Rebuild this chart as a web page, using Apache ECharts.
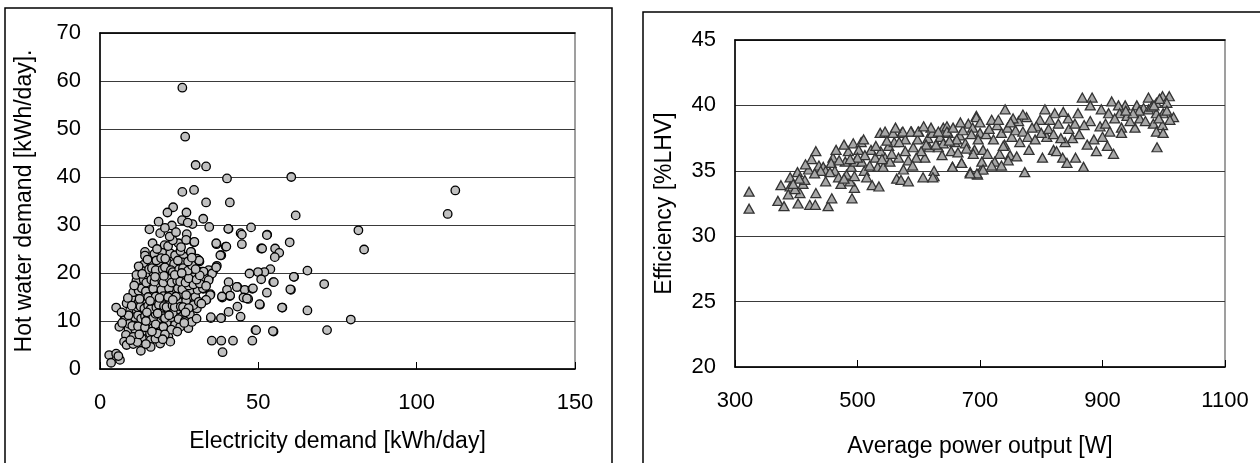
<!DOCTYPE html>
<html>
<head>
<meta charset="utf-8">
<script src="https://cdn.jsdelivr.net/npm/echarts@6/dist/echarts.min.js"></script>
<style>
  html, body { margin: 0; padding: 0; background: #fff; }
  #main { width: 1260px; height: 463px; }
</style>
</head>
<body>
<div id="main"></div>
<script>
// left panel: electricity vs hot water demand [kWh/day]
var demandPoints = [
  [26.0,58.6],[26.9,48.4],[30.2,42.5],[33.5,42.2],[40.1,39.7],[60.4,40.0],[26.0,36.9],[29.7,37.3],[33.5,34.7],[41.0,34.7],
  [61.8,32.0],[27.3,32.6],[32.6,31.3],[81.6,28.9],[83.4,24.9],[112.2,37.2],[109.8,32.3],[34.5,29.6],[40.6,29.2],[44.4,28.3],
  [47.7,29.5],[52.8,28.0],[59.9,26.4],[44.8,26.0],[36.8,26.0],[39.7,25.5],[38.3,23.7],[50.9,25.1],[55.3,25.1],[56.6,24.2],
  [55.2,23.3],[65.5,20.5],[53.8,20.8],[51.9,20.2],[49.9,20.2],[47.2,19.9],[50.9,18.7],[61.3,19.2],[54.7,18.1],[70.8,17.7],
  [60.3,16.5],[52.7,15.9],[40.6,18.1],[40.1,16.5],[43.4,17.1],[45.7,16.5],[48.1,16.7],[41.0,15.2],[38.6,14.9],[45.3,14.9],
  [46.8,14.6],[43.4,13.0],[50.5,13.4],[57.6,12.8],[65.5,12.2],[40.6,11.9],[44.4,10.9],[35.0,10.6],[38.3,10.6],[79.2,10.3],
  [49.1,8.1],[54.8,7.8],[71.7,8.1],[35.3,5.9],[38.3,5.9],[42.0,5.9],[48.1,5.9],[38.7,3.5],
  [32.6,16.7],[34.9,15.6],[36.9,21.5],[35.9,20.6],[34.4,18.9],[33.6,14.4],[27.9,8.5],[30.6,12.6],[29.6,13.6],[29.7,26.4],
  [27.4,26.9],[28.8,24.4],[31.4,22.4],[29.7,22.4],[30.8,22.8],[26.6,23.4],[27.4,28.1],[29.2,30.2],[32.5,20.1],[26.9,20.1],
  [29.5,19.2],[26.6,18.3],[28.8,16.5],[30.1,15.1],[26.9,15.8],[26.4,12.3],[25.9,10.9],
  [23.1,33.7],[21.3,32.6],[18.5,30.7],[15.6,29.1],[19.0,28.3],[22.7,29.9],[25.9,31.0],[27.7,30.5],[40.5,29.2],[16.6,26.2],
  [20.4,25.8],[24.8,26.2],[27.2,26.9],[29.8,26.5],[36.7,26.2],[38.0,23.7],[14.2,24.4],[14.2,23.6],[17.2,24.0],[19.7,24.2],
  [22.2,24.1],[23.7,23.7],[26.4,23.4],[28.7,24.4],[30.6,23.0],[31.3,22.6],[13.7,21.7],[16.3,22.0],[19.0,21.5],[21.1,22.4],
  [23.4,21.9],[26.1,22.2],[12.7,20.6],[12.4,19.1],[14.8,19.4],[16.9,19.9],[18.8,19.6],[21.1,19.9],[24.5,19.2],[27.4,19.1],
  [29.3,19.1],[32.2,20.3],[34.3,20.6],[35.4,19.9],[36.7,21.2],[32.9,19.1],[34.3,18.5],[12.9,17.5],[15.6,17.5],[18.1,17.5],
  [20.6,17.6],[23.2,17.8],[25.9,17.8],[28.7,16.5],[30.8,16.5],[32.5,16.8],[34.8,15.4],[33.5,14.4],[11.4,15.2],[13.7,15.6],
  [16.0,15.6],[18.5,15.8],[20.9,15.9],[23.2,16.1],[25.8,15.8],[10.3,14.4],[8.4,13.7],[12.1,13.8],[14.8,13.7],[17.1,13.8],
  [19.5,14.0],[22.2,14.0],[24.8,14.0],[27.2,14.2],[29.5,13.3],[5.1,12.8],[9.5,12.2],[11.6,11.9],[13.7,12.3],[16.4,11.9],
  [19.0,12.3],[21.6,12.3],[24.3,12.4],[7.9,10.6],[7.6,10.1],[10.0,10.1],[12.7,9.9],[15.6,9.6],[18.1,10.2],[21.1,9.5],
  [23.7,9.2],[25.3,8.8],[6.1,8.8],[9.0,8.3],[11.1,8.3],[13.5,7.8],[15.8,7.4],[19.0,8.1],[21.6,6.7],[8.2,7.1],
  [10.5,6.7],[13.2,6.4],[16.0,6.0],[7.6,5.7],[8.4,5.0],[10.5,5.2],[12.9,3.8],[16.0,4.6],[19.0,5.3],[22.2,5.7],
  [2.9,2.9],[5.1,3.2],[3.5,1.3],[6.3,1.9],[5.8,2.7],[35.0,10.8],[38.2,10.6],
  [44.8,28.0],[51.2,25.1],[52.7,27.9],[50.4,13.5],[48.3,16.8],[54.9,18.1],[60.1,16.6],[61.2,19.2],[57.5,12.8],[43.2,17.1],
  [46.4,14.7],[41.1,15.3],[38.5,15.1],[49.3,8.1],[54.6,7.9],[32.7,20.3],[39.9,25.5],
  [11.0,10.8],[12.0,11.2],[13.0,10.5],[14.2,11.0],[15.3,10.8],[16.8,10.7],[17.5,11.5],[19.8,11.0],[20.5,10.6],[22.5,10.8],
  [23.0,11.6],[24.8,10.4],[26.8,10.0],[28.4,11.4],[29.0,9.8],[30.5,10.5],[11.8,12.9],[12.8,13.0],[14.0,12.6],[15.2,13.2],
  [16.0,12.5],[17.8,12.8],[18.6,13.4],[20.2,13.1],[21.0,12.9],[22.9,13.2],[23.6,12.9],[25.5,13.0],[26.2,12.9],[28.0,12.7],
  [31.2,14.0],[32.0,13.6],[10.5,16.0],[12.2,16.3],[13.2,16.8],[14.5,16.2],[15.2,15.0],[16.8,16.7],[17.6,15.1],[19.4,16.5],
  [20.0,15.2],[21.8,16.8],[22.3,15.3],[24.0,15.1],[24.6,16.8],[26.0,16.6],[27.2,15.4],[28.0,17.4],[29.5,17.6],[31.5,17.8],
  [33.5,17.3],[11.5,18.4],[13.8,18.6],[14.6,18.0],[16.2,18.6],[17.2,18.2],[19.6,18.5],[20.0,18.0],[22.0,18.8],[22.6,18.0],
  [24.4,18.4],[25.3,18.2],[27.0,18.0],[28.0,18.9],[30.5,18.6],[31.5,19.5],[13.5,20.4],[15.5,20.8],[16.4,21.0],[17.6,20.6],
  [19.8,20.8],[20.5,21.2],[22.4,20.6],[23.0,20.2],[25.0,20.8],[26.2,21.0],[27.8,20.5],[29.0,21.6],[30.2,20.8],[15.0,22.8],
  [17.8,22.6],[19.3,23.1],[20.6,23.0],[24.6,22.6],[25.4,24.6],[27.8,22.4],[29.0,23.2],[18.0,25.0],[21.5,25.6],[23.0,26.8],
  [25.6,25.4],[22.0,27.6],[24.0,28.5],[20.5,29.4],[9.2,9.4],[10.2,9.0],[12.0,8.9],[14.2,8.7],[16.8,8.6],[17.6,9.3],
  [20.0,8.8],[22.5,8.2],[24.4,7.8],[26.6,9.6],[14.5,5.2],[17.5,6.3],[18.2,7.4],[20.5,7.2],[11.8,5.6],[9.6,6.0],
  [14.5,10.0],[27.0,11.8],[9.0,11.2],[8.8,14.8],[10.0,13.2],[7.0,9.6],[6.8,11.8],[10.8,17.4],[12.2,21.4],[11.5,19.6],
  [12.5,14.6],[15.8,14.2],[18.8,14.8],[21.5,15.0],[13.3,19.8],[17.4,19.2],[20.2,19.4],[23.6,19.6],[14.8,11.8],[18.2,11.6],
  [21.8,11.2],[12.4,7.2],[16.4,7.8],[19.8,6.2],[23.0,14.4],[25.8,20.0]
];

// right panel: average power output [W] vs efficiency [%LHV]
var efficiencyPoints = [
  [323,33.4],[323,32.1],[375,33.9],[390,34.5],[402,34.9],[390,33.8],[370,32.7],[380,32.3],[387,33.2],[403,32.5],
  [406,33.3],[411,34.0],[414,34.3],[422,32.4],[431,32.4],[432,33.3],[420,35.1],[425,35.9],[437,35.4],[444,35.3],
  [448,35.0],[452,32.3],[458,32.9],[460,36.0],[457,35.6],[463,35.0],[469,34.5],[473,34.0],[480,35.7],[485,36.5],
  [493,37.1],[491,32.9],[495,33.7],[488,34.2],[482,34.7],[490,35.3],[496,35.7],[506,37.2],[502,36.6],[507,35.7],
  [511,35.0],[515,34.5],[522,36.6],[524,33.9],[529,36.0],[533,35.3],[535,33.8],[537,37.9],[538,36.5],[542,35.3],
  [545,36.0],[551,36.9],[553,35.7],[560,37.2],[567,36.0],[564,34.4],[572,37.9],[575,35.1],[571,34.3],[583,34.2],
  [578,37.4],[583,35.8],[588,38.0],[591,36.8],[598,37.4],[600,38.0],[607,34.5],[610,36.0],[615,37.5],[617,36.8],
  [622,37.9],[625,34.6],[625,35.0],[632,36.8],[635,37.6],[640,38.3],[646,38.4],[648,37.9],[653,36.5],[655,35.3],
  [659,37.2],[667,37.7],[670,35.6],[676,37.1],[684,34.9],[681,38.6],[688,38.3],[691,36.6],[694,39.2],[696,34.7],
  [702,35.1],[700,37.9],[574,38.0],[587,38.0],[599,38.0],[623,34.5],
  [867,40.6],[883,40.6],[880,40.0],[975,40.6],[998,40.7],[1009,40.7],[988,40.2],[1005,40.2],[1016,39.1],[999,39.4],
  [988,39.4],[983,38.6],[998,38.5],[988,38.0],[999,37.9],[989,36.8],[967,39.8],[956,40.0],[937,40.0],[915,40.3],
  [926,40.0],[975,39.7],[961,39.0],[953,38.3],[931,38.3],[931,37.9],[900,37.6],[886,37.4],[890,36.5],[869,35.3],
  [898,39.7],[910,39.4],[928,39.4],[896,38.4],[880,38.8],[860,39.4],[844,39.0],[836,39.5],[822,39.4],[806,39.7],
  [814,38.9],[798,38.9],[792,38.4],[776,39.1],[763,38.8],[754,39.0],[741,39.7],[719,38.9],[694,39.1],[809,37.6],
  [839,37.2],[851,37.5],[820,36.6],[825,36.5],[835,36.0],[802,36.0],[773,34.9],[749,36.2],[746,35.8],[732,36.3],
  [724,35.7],[735,35.4],[719,35.4],[703,35.7],[705,35.1],[695,34.8],[684,34.8],[670,35.6],[655,35.3],[689,36.3],
  [678,36.7],[705,36.6],[662,37.4],[646,38.0],[640,37.1],
  [710,37.8],[715,38.2],[722,37.4],[728,38.5],[735,37.9],[740,37.0],[745,38.3],[752,37.6],[758,38.1],[765,37.2],
  [770,38.0],[778,37.6],[785,38.3],[790,37.4],[800,37.9],[812,38.2],[820,37.8],[828,38.6],[832,37.5],[845,38.2],
  [855,38.6],[862,37.8],[870,38.5],[875,37.0],[905,38.6],[912,38.0],[920,39.0],[940,39.2],[945,38.8],[960,39.6],
  [970,38.8],[980,39.9],[992,39.0],[1005,39.6],[1010,38.9],[993,40.5],[984,40.0],[950,39.4],[938,39.6],[908,36.9],
  [918,36.3],[856,36.0],[842,35.6],[780,36.6],[760,36.1],[738,36.9],[712,36.3],[697,37.4],[686,37.8],[672,38.1],
  [664,36.4],[650,37.3],[638,36.2],[628,37.0],[620,38.3],[612,37.0],[604,36.5],[596,36.0],[590,35.4],[578,36.5],
  [568,37.2],[556,36.3],[548,37.3],[540,35.9],[530,36.9],[520,35.4],[512,36.2],[500,36.0],[495,34.6],[488,35.9],
  [478,34.4],[470,35.8],[465,36.6],[455,34.9],[448,34.2],[440,35.0],[430,34.8],[415,35.5],[405,34.4],[398,33.6],
  [395,34.0],[432,36.5],[478,37.0],[510,37.4],[545,38.0],[558,37.9],[562,38.3],[608,38.4],[632,38.0],[656,38.3],
  [668,38.7],[700,38.7],[730,38.9],[750,38.7],[770,39.3]
];

var leftXTicks = [0, 150, 50];    // min, max, interval
var leftYTicks = [0, 70, 10];
var rightXTicks = [300, 1100, 200];
var rightYTicks = [20, 45, 5];

var FONT = 'Liberation Sans, Arial, sans-serif';
var FS = 22;      // tick labels
var NFS = 23;     // axis names
var myChart = echarts.init(document.getElementById('main'), null, { renderer: 'canvas' });

function plain(v) { return String(v); }

function xAx(idx, t, name, gap) {
  return {
    type: 'value', gridIndex: idx, min: t[0], max: t[1], interval: t[2],
    name: name, nameLocation: 'middle', nameGap: gap,
    nameTextStyle: { color: '#000', fontSize: NFS, fontFamily: FONT },
    axisLine: { show: true, lineStyle: { color: '#000', width: 1.5 } },
    axisTick: { show: true, inside: true, length: 7, lineStyle: { color: '#000' } },
    axisLabel: { color: '#000', fontSize: FS, fontFamily: FONT, margin: 23, formatter: plain },
    splitLine: { show: false }
  };
}
function topAx(idx, t) {
  return {
    type: 'value', gridIndex: idx, position: 'top', min: t[0], max: t[1], interval: t[2],
    axisLine: { show: true, lineStyle: { color: '#000', width: 1.5 } },
    axisTick: { show: false }, axisLabel: { show: false }, splitLine: { show: false }
  };
}
function yAx(idx, t, name, gap) {
  return {
    type: 'value', gridIndex: idx, min: t[0], max: t[1], interval: t[2],
    name: name, nameLocation: 'middle', nameGap: gap,
    nameTextStyle: { color: '#000', fontSize: NFS, fontFamily: FONT },
    axisLine: { show: true, lineStyle: { color: '#000', width: 1.5 } },
    axisTick: { show: false },
    axisLabel: { color: '#000', fontSize: FS, fontFamily: FONT, margin: 19, formatter: plain },
    splitLine: { show: true, lineStyle: { color: '#3a3a3a', width: 1 } }
  };
}

var option = {
  backgroundColor: '#fff',
  animation: false,
  graphic: [
    { type: 'rect', shape: { x: 5, y: 8, width: 607, height: 480 }, style: { fill: 'none', stroke: '#000', lineWidth: 1.5 } },
    { type: 'rect', shape: { x: 643, y: 12, width: 640, height: 480 }, style: { fill: 'none', stroke: '#000', lineWidth: 1.5 } }
  ],
  grid: [
    { left: 100, top: 33, width: 475, height: 336, show: true, borderColor: '#808080', borderWidth: 1.5 },
    { left: 735, top: 40, width: 490, height: 327, show: true, borderColor: '#808080', borderWidth: 1.5 }
  ],
  xAxis: [
    xAx(0, leftXTicks, 'Electricity demand [kWh/day]', 61),
    xAx(1, rightXTicks, 'Average power output [W]', 68),
    topAx(0, leftXTicks),
    topAx(1, rightXTicks)
  ],
  yAxis: [
    yAx(0, leftYTicks, 'Hot water demand [kWh/day].', 64),
    yAx(1, rightYTicks, 'Efficiency [%LHV]', 59)
  ],
  series: [
    {
      type: 'scatter', xAxisIndex: 0, yAxisIndex: 0, data: demandPoints,
      symbol: 'circle', symbolSize: 8.5,
      itemStyle: { color: '#c0c0c0', borderColor: '#000', borderWidth: 1.3, opacity: 1 }
    },
    {
      type: 'scatter', xAxisIndex: 1, yAxisIndex: 1, data: efficiencyPoints,
      symbol: 'triangle', symbolSize: [10, 9],
      itemStyle: { color: '#a6a6a6', borderColor: '#333', borderWidth: 1.3, opacity: 1 }
    }
  ]
};

myChart.setOption(option);
</script>
</body>
</html>
